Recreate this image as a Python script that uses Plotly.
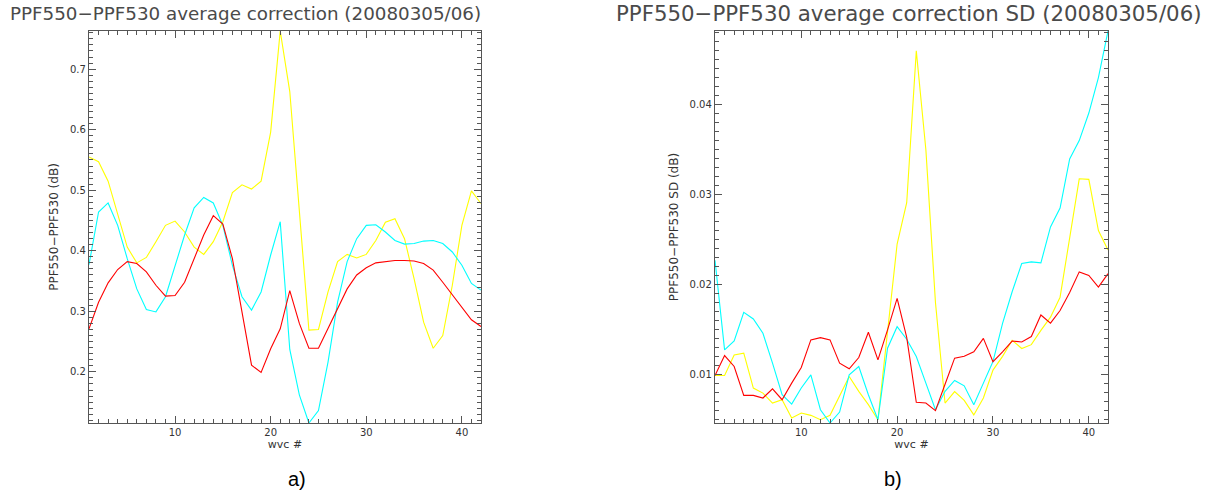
import plotly.graph_objects as go

wvc = list(range(1, 43))

# Panel a) average correction (dB)
avg_yellow = [0.555, 0.547, 0.515, 0.459, 0.406, 0.380, 0.389, 0.415, 0.442, 0.449,
              0.431, 0.406, 0.394, 0.415, 0.448, 0.496, 0.509, 0.502, 0.515, 0.596,
              0.763, 0.663, 0.464, 0.269, 0.270, 0.332, 0.382, 0.394, 0.388, 0.394,
              0.417, 0.447, 0.453, 0.420, 0.354, 0.282, 0.239, 0.260, 0.343, 0.442,
              0.499, 0.478]
avg_cyan = [0.377, 0.464, 0.479, 0.442, 0.387, 0.337, 0.303, 0.299, 0.324, 0.376,
            0.426, 0.471, 0.488, 0.479, 0.442, 0.376, 0.324, 0.302, 0.332, 0.393,
            0.448, 0.237, 0.162, 0.1155, 0.136, 0.216, 0.315, 0.382, 0.420, 0.442,
            0.443, 0.431, 0.417, 0.411, 0.412, 0.416, 0.417, 0.412, 0.398, 0.376,
            0.346, 0.335]
avg_red = [0.271, 0.315, 0.347, 0.369, 0.382, 0.379, 0.365, 0.343, 0.325, 0.326,
           0.348, 0.387, 0.426, 0.458, 0.444, 0.387, 0.299, 0.211, 0.199, 0.238,
           0.271, 0.334, 0.280, 0.239, 0.239, 0.271, 0.304, 0.337, 0.360, 0.372,
           0.380, 0.382, 0.384, 0.384, 0.383, 0.379, 0.368, 0.348, 0.328, 0.306,
           0.286, 0.275]

# Panel b) average correction SD (dB)
sd_yellow = [0.00987, 0.00987, 0.01216, 0.01235, 0.00847, 0.00791, 0.00680, 0.00717, 0.00514, 0.00569,
             0.00543, 0.00495, 0.00543, 0.00765, 0.00976, 0.00810, 0.00662, 0.00495, 0.01500, 0.02450,
             0.02910, 0.04600, 0.03500, 0.01800, 0.00680, 0.00807, 0.00710, 0.00548, 0.00736, 0.01047,
             0.01200, 0.01379, 0.01287, 0.01330, 0.01489, 0.01636, 0.01858, 0.02500, 0.03176, 0.03170,
             0.02600, 0.02383]
sd_cyan = [0.02270, 0.01272, 0.01372, 0.01689, 0.01616, 0.01457, 0.01124, 0.00773, 0.00669, 0.00847,
           0.00994, 0.00606, 0.00458, 0.00580, 0.00994, 0.01087, 0.00773, 0.00495, 0.01290, 0.01530,
           0.01390, 0.01198, 0.00902, 0.00606, 0.00810, 0.00932, 0.00872, 0.00662, 0.00902, 0.01142,
           0.01567, 0.01919, 0.02233, 0.02251, 0.02240, 0.02640, 0.02850, 0.03397, 0.03601, 0.03908,
           0.04303, 0.04821]
sd_red = [0.00987, 0.01209, 0.01087, 0.00765, 0.00765, 0.00736, 0.00839, 0.00717, 0.00902, 0.01076,
          0.01383, 0.01408, 0.01383, 0.01124, 0.01061, 0.01187, 0.01468, 0.01161, 0.01494, 0.01845,
          0.01410, 0.00688, 0.00680, 0.00595, 0.00890, 0.01180, 0.01200, 0.01250, 0.01400, 0.01140,
          0.01250, 0.01370, 0.01360, 0.01420, 0.01660, 0.01570, 0.01710, 0.01910, 0.02140, 0.02100,
          0.01970, 0.02120]

title_a = "PPF550\u2212PPF530 average correction (20080305/06)"
title_b = "PPF550\u2212PPF530 average correction SD (20080305/06)"
ytitle_a = "PPF550\u2212PPF530 (dB)"
ytitle_b = "PPF550\u2212PPF530 SD (dB)"
xtitle = "wvc #"

W, H = 1216, 495
fig = go.Figure()

colors = ["#ffff00", "#00ffff", "#ff0000"]
for ys, c in zip([avg_yellow, avg_cyan, avg_red], colors):
    fig.add_trace(go.Scatter(x=wvc, y=ys, mode="lines", line=dict(color=c, width=1.1),
                             xaxis="x", yaxis="y", showlegend=False, hoverinfo="skip"))
for ys, c in zip([sd_yellow, sd_cyan, sd_red], colors):
    fig.add_trace(go.Scatter(x=wvc, y=ys, mode="lines", line=dict(color=c, width=1.1),
                             xaxis="x2", yaxis="y2", showlegend=False, hoverinfo="skip"))

axcol = "#555555"
tickfont = dict(family="DejaVu Sans", size=10, color="#333333")
titlefont = dict(family="DejaVu Sans", size=12, color="#333333")

def xax(domain, anchor):
    return dict(domain=domain, anchor=anchor, range=[1, 42], tickvals=[10, 20, 30, 40],
                ticks="inside", ticklen=7, tickcolor=axcol, tickwidth=1,
                minor=dict(dtick=1, tick0=0, ticks="inside", ticklen=3.5, tickcolor=axcol),
                showline=True, linecolor=axcol, linewidth=1.3, mirror="ticks",
                showgrid=False, zeroline=False, tickfont=tickfont,
                title=dict(text=xtitle, font=dict(family="DejaVu Sans", size=11, color="#333333"),
                           standoff=1))

def yax(domain, anchor, rng, dtick, mdtick, title):
    return dict(domain=domain, anchor=anchor, range=rng, dtick=dtick, tick0=0,
                ticks="inside", ticklen=7, tickcolor=axcol, tickwidth=1,
                minor=dict(dtick=mdtick, tick0=0, ticks="inside", ticklen=3.5, tickcolor=axcol),
                showline=True, linecolor=axcol, linewidth=1.3, mirror="ticks",
                showgrid=False, zeroline=False, tickfont=tickfont,
                title=dict(text=title, font=titlefont, standoff=8))

yd = [1 - 423 / H, 1 - 31 / H]
rng_a = [min(avg_yellow + avg_cyan + avg_red), max(avg_yellow + avg_cyan + avg_red)]
rng_b = [min(sd_yellow + sd_cyan + sd_red), max(sd_yellow + sd_cyan + sd_red)]

fig.update_layout(
    width=W, height=H, margin=dict(l=0, r=0, t=0, b=0),
    paper_bgcolor="white", plot_bgcolor="white",
    xaxis=xax([89 / W, 481 / W], "y"),
    yaxis=yax(yd, "x", rng_a, 0.1, 0.01, ytitle_a),
    xaxis2=xax([715 / W, 1108 / W], "y2"),
    yaxis2=yax(yd, "x2", rng_b, 0.01, 0.001, ytitle_b),
    hovermode=False,
)

fig.add_annotation(text=title_a, x=8 / W, y=1 - 14 / H, xref="paper", yref="paper",
                   xanchor="left", yanchor="middle", showarrow=False,
                   font=dict(family="DejaVu Sans", size=18.3, color="#4a4a4a"))
fig.add_annotation(text=title_b, x=614 / W, y=1 - 14 / H, xref="paper", yref="paper",
                   xanchor="left", yanchor="middle", showarrow=False,
                   font=dict(family="DejaVu Sans", size=21.3, color="#4a4a4a"))
labfont = dict(family="Liberation Sans", size=20, color="#000000")
fig.add_annotation(text="a)", x=297 / W, y=1 - 479 / H, xref="paper", yref="paper",
                   xanchor="center", yanchor="middle", showarrow=False, font=labfont)
fig.add_annotation(text="b)", x=893 / W, y=1 - 479 / H, xref="paper", yref="paper",
                   xanchor="center", yanchor="middle", showarrow=False, font=labfont)

fig.write_html("out.html")
